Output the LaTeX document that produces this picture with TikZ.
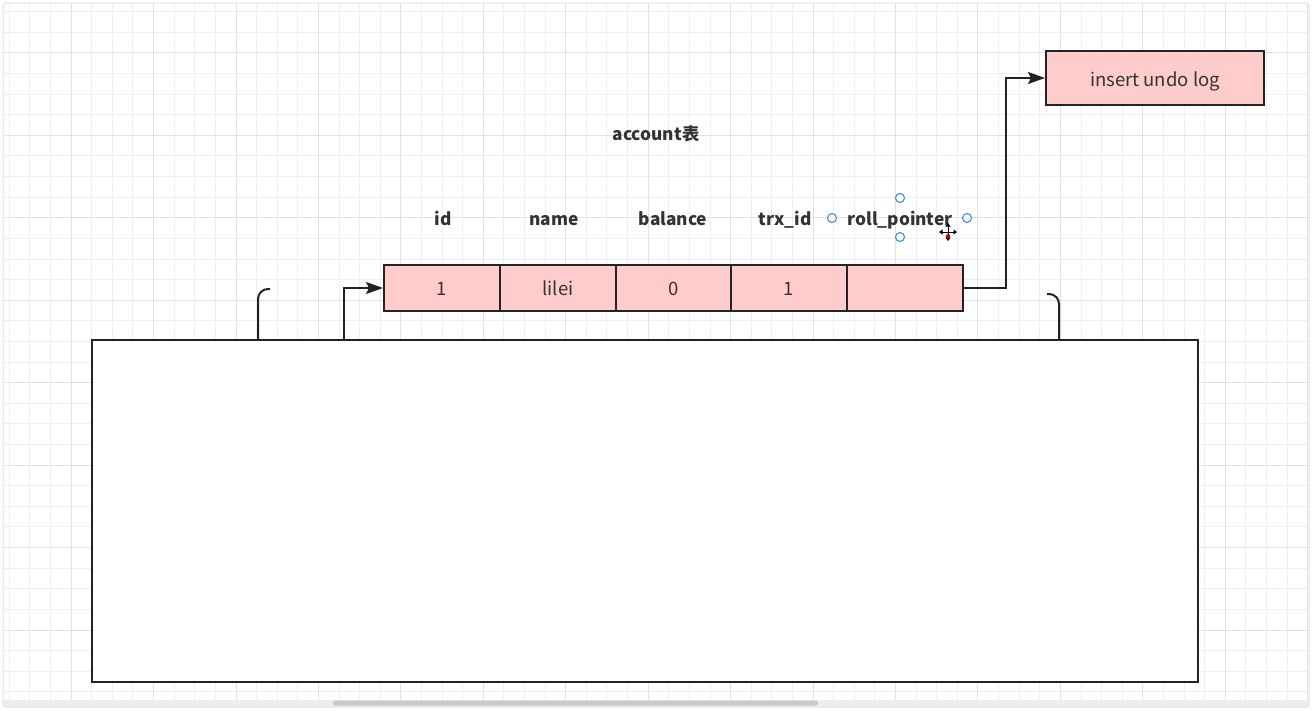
\documentclass[tikz,border=0pt]{standalone}
\usepackage{fontspec}
\setmainfont{Noto Sans CJK SC}
\usetikzlibrary{arrows.meta}
\definecolor{gridminor}{HTML}{EFEFEF}
\definecolor{gridmajor}{HTML}{E2E2E2}
\definecolor{linec}{HTML}{222222}
\definecolor{pinkc}{HTML}{FFCCCC}
\definecolor{textc}{HTML}{333333}
\definecolor{handlec}{HTML}{3D8EDD}
\definecolor{framec}{HTML}{E2E2E2}
\definecolor{stripc}{HTML}{EDEDED}
\definecolor{thumbc}{HTML}{C9C9C9}
\begin{document}
\begin{tikzpicture}[x=1pt,y=-1pt,
  cellbox/.style={draw=linec,line width=2pt,fill=pinkc,minimum width=116pt,minimum height=46pt,inner sep=0pt,text height=14pt,text depth=0pt,text=textc,font=\fontsize{18.5}{22}\selectfont},
  undobox/.style={draw=linec,line width=2pt,fill=pinkc,minimum width=218pt,minimum height=54pt,inner sep=0pt,text height=17pt,text depth=0pt,text=textc,font=\fontsize{18.5}{22}\selectfont},
  bigbox/.style={draw=linec,line width=2pt,fill=white,minimum width=1106pt,minimum height=342pt,inner sep=0pt},
  header/.style={text=textc,font=\bfseries\fontsize{17.3}{20}\selectfont,inner sep=0pt,anchor=base},
  conn/.style={draw=linec,line width=2pt},
  arr/.style={conn,-{Stealth[length=17pt,width=12pt,inset=3pt]}},
  handle/.style={draw=handlec,line width=1.1pt,fill=white},
]
\useasboundingbox (0,0) rectangle (1312,710);
\fill[white] (0,0) rectangle (1312,710);
% grid
\foreach \i in {0,...,63}{
  \pgfmathsetmacro\xx{9.3+20.61*\i}
  \draw[gridminor,line width=1pt] (\xx,3) -- (\xx,700);
}
\foreach \j in {0,...,33}{
  \pgfmathsetmacro\yy{11.7+20.61*\j}
  \draw[gridminor,line width=1pt] (3,\yy) -- (1309,\yy);
}
\foreach \i in {3,7,...,63}{
  \pgfmathsetmacro\xx{9.3+20.61*\i}
  \draw[gridmajor,line width=1pt] (\xx,3) -- (\xx,700);
}
\foreach \j in {2,6,...,33}{
  \pgfmathsetmacro\yy{11.7+20.61*\j}
  \draw[gridmajor,line width=1pt] (3,\yy) -- (1309,\yy);
}
% window frame and scrollbar
\fill[stripc] (3,700) rectangle (1309,707);
\fill[thumbc,rounded corners=2.5pt] (333,700.5) rectangle (818,705.5);
\draw[framec,line width=1pt,rounded corners=3pt] (3,3) rectangle (1309,707);

% main box
\node[bigbox] (main) at (645,511) {};

% title and headers
\node[header] (title) at (656,140) {account表};
\node[header] (hid) at (443,225) {id};
\node[header] (hname) at (554,225) {name};
\node[header] (hbal) at (673,225) {balance};
\node[header] (htrx) at (785,225) {trx\_id};
\node[header] (hroll) at (900,225) {roll\_pointer};

% row cells
\node[cellbox] (c1) at (442,288) {1};
\node[cellbox] (c2) at (558,288) {lilei};
\node[cellbox] (c3) at (673.5,288) {0};
\node[cellbox] (c4) at (789,288) {1};
\node[cellbox] (c5) at (904.5,288) {};

% undo log
\node[undobox] (undo) at (1155,78) {insert undo log};

% connectors
\draw[arr] (c5.east) -- ++(42,0) |- (undo.west);
\coordinate (s1) at (344,340);
\draw[arr] (s1) |- (c1.west);

% brackets
\coordinate (bl) at (258,340);
\coordinate (br) at (1059,340);
\draw[conn,rounded corners=10pt] (bl) -- ++(0,-51) -- ++(12,0);
\draw[conn,rounded corners=10pt] (br) -- ++(0,-46) -- ++(-12,0);

% selection handles
\draw[handle] (832,218) circle (4.5pt);
\draw[handle] (967,218) circle (4.5pt);
\draw[handle] (900,198) circle (4.5pt);
\draw[handle] (900,237) circle (4.5pt);

% move cursor
\foreach \a in {0,90,180,270}{
  \draw[white,line width=3pt] (948,232) -- ++(\a:8);
}
\foreach \a in {0,90,180,270}{
  \draw[black,line width=1pt,-{Triangle[length=3.5pt,width=5pt]}] (948,232) -- ++(\a:9);
}
\fill[red!75!black] (948,236.5) circle (2.3pt);
\end{tikzpicture}
\end{document}
